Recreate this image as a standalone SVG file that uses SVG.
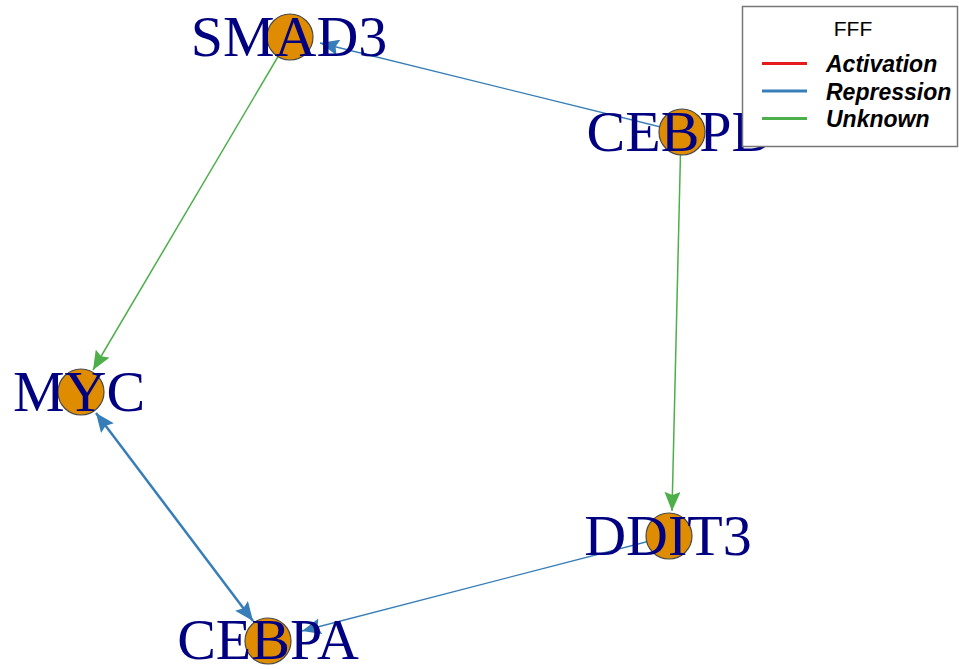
<svg xmlns="http://www.w3.org/2000/svg" width="959" height="669" viewBox="0 0 959 669">
<style>
.lbl{font-family:"Liberation Serif","Times New Roman",serif;font-size:58px;fill:#000080;text-anchor:middle}
.nd{fill:#E08C00;stroke:#4a4a4a;stroke-width:1.2}
.e{fill:none}
.blue{stroke:#377EB8}
.green{stroke:#4DAF4A}
.lg{font-family:"Liberation Sans",Arial,sans-serif;fill:#000}
</style>
<defs>
<marker id="ab" markerUnits="userSpaceOnUse" markerWidth="20" markerHeight="16" refX="19" refY="8" orient="auto-start-reverse" viewBox="0 0 20 16">
<path d="M0,0 L19,8 L0,16 L3,8 z" fill="#377EB8"/>
</marker>
<marker id="ag" markerUnits="userSpaceOnUse" markerWidth="20" markerHeight="16" refX="19" refY="8" orient="auto" viewBox="0 0 20 16">
<path d="M0,0 L19,8 L0,16 L3,8 z" fill="#4DAF4A"/>
</marker>
</defs>
<rect width="959" height="669" fill="#fff"/>
<g id="edges">
<line class="e blue" x1="681" y1="132" x2="320" y2="43" stroke-width="1.3" marker-end="url(#ab)"/>
<line class="e green" x1="289" y1="38" x2="93" y2="370" stroke-width="1.5" marker-end="url(#ag)"/>
<line class="e green" x1="681" y1="132" x2="672" y2="511" stroke-width="1.5" marker-end="url(#ag)"/>
<line class="e blue" x1="96" y1="413" x2="253" y2="621" stroke-width="2.5" marker-start="url(#ab)" marker-end="url(#ab)"/>
<line class="e blue" x1="669" y1="536" x2="302" y2="631" stroke-width="1.3" marker-end="url(#ab)"/>
</g>
<g id="SMAD3"><circle class="nd" cx="290" cy="37" r="23"/><text class="lbl" x="289" y="56">SMAD3</text></g>
<g id="CEBPD"><circle class="nd" cx="682" cy="132" r="23"/><text class="lbl" x="680" y="151">CEBPD</text></g>
<g id="MYC"><circle class="nd" cx="81" cy="392" r="23"/><text class="lbl" x="79" y="411">MYC</text></g>
<g id="DDIT3"><circle class="nd" cx="669" cy="536" r="23"/><text class="lbl" x="668" y="555">DDIT3</text></g>
<g id="CEBPA"><circle class="nd" cx="268" cy="641" r="23"/><text class="lbl" x="268" y="659">CEBPA</text></g>
<g id="legend">
<rect x="742.5" y="6.5" width="215" height="140" fill="#fff" stroke="#777" stroke-width="1.5"/>
<text class="lg" x="853" y="36" font-size="21" text-anchor="middle">FFF</text>
<line x1="762" y1="63.5" x2="807" y2="63.5" stroke="#E41A1C" stroke-width="3"/>
<line x1="762" y1="91" x2="807" y2="91" stroke="#377EB8" stroke-width="3"/>
<line x1="762" y1="118.5" x2="807" y2="118.5" stroke="#4DAF4A" stroke-width="3"/>
<text class="lg" x="826" y="72" font-size="23" font-weight="bold" font-style="italic">Activation</text>
<text class="lg" x="826" y="99.5" font-size="23" font-weight="bold" font-style="italic">Repression</text>
<text class="lg" x="826" y="127" font-size="23" font-weight="bold" font-style="italic">Unknown</text>
</g>
</svg>
